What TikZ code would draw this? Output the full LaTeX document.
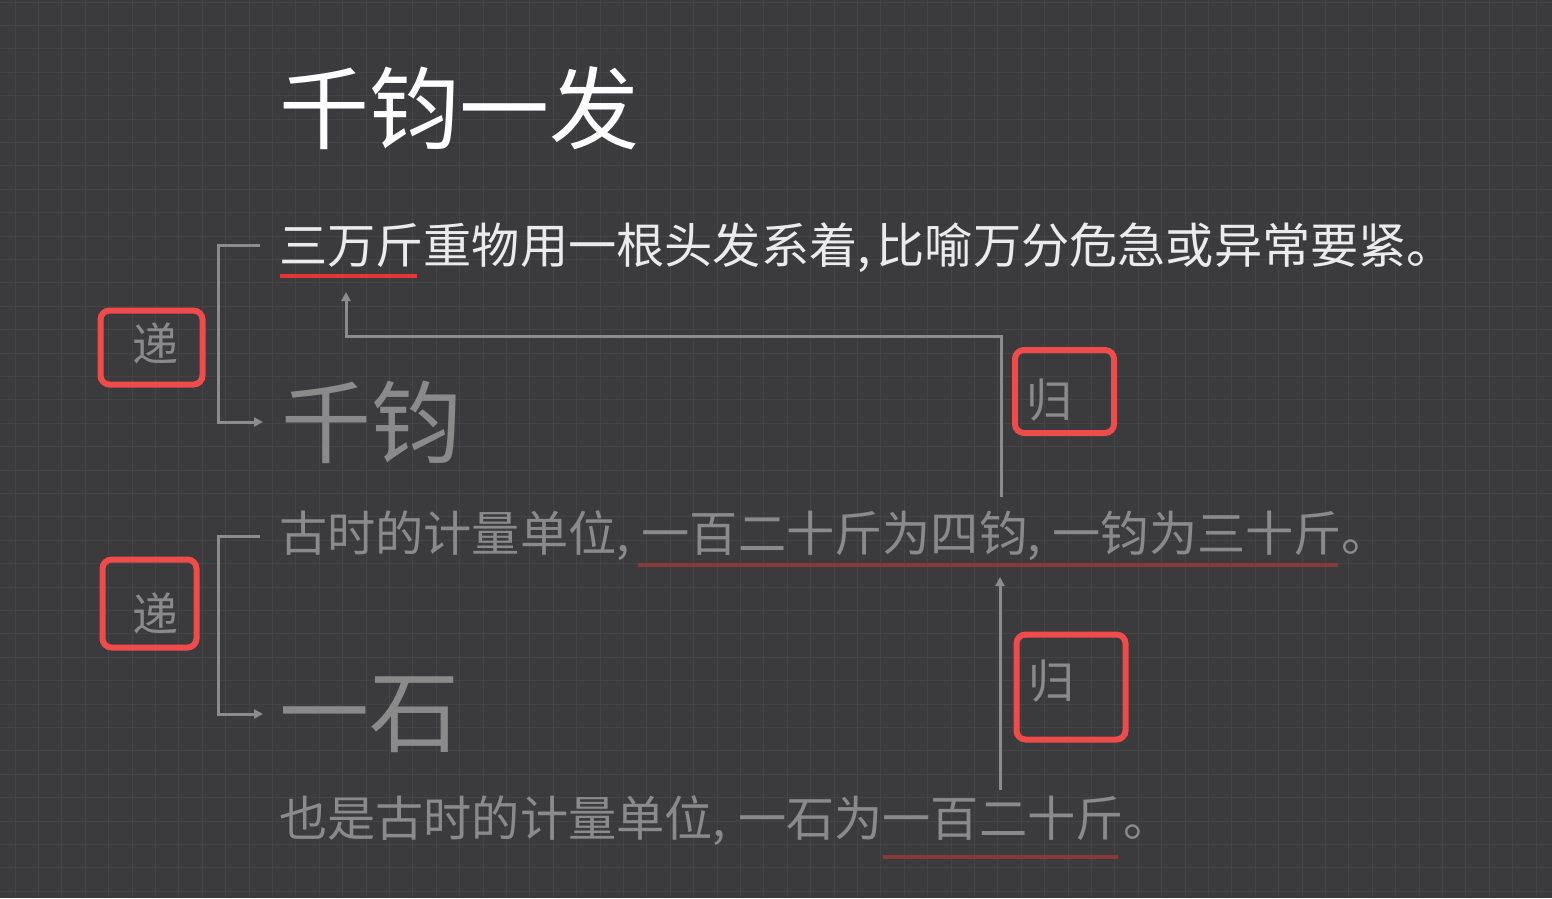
\documentclass[tikz,border=0pt]{standalone}
\usepackage{fontspec}
\setmainfont{Noto Sans CJK SC}
\newfontfamily\cjk{Noto Sans CJK SC}
\usetikzlibrary{arrows.meta}
\definecolor{bg}{HTML}{3B3A3D}
\definecolor{gridc}{HTML}{444346}
\definecolor{boxred}{HTML}{EF4B4B}
\definecolor{ulred}{HTML}{E53535}
\definecolor{ulfade}{HTML}{873A3A}
\definecolor{graytxt}{HTML}{8A8A8A}
\definecolor{conngray}{HTML}{8C8C8C}
\newcommand\cma{,\hspace{6pt}}
\newcommand\cmb{,\hspace{12pt}}
\tikzset{
  txt/.style={anchor=base west, inner sep=0pt, outer sep=0pt, font=\cjk\fontsize{48.2}{50}\selectfont},
  bigtxt/.style={anchor=base west, inner sep=0pt, outer sep=0pt, font=\cjk\fontsize{90}{95}\selectfont},
  tagtxt/.style={anchor=base west, inner sep=0pt, outer sep=0pt, text=graytxt, font=\cjk\fontsize{46}{50}\selectfont},
  tagbox/.style={draw=boxred, line width=6pt, rounded corners=9pt},
  conn/.style={draw=conngray, line width=3pt, -{Triangle[length=9pt,width=9pt]}},
  ul/.style={line width=4pt},
}
\begin{document}
\begin{tikzpicture}[x=1pt,y=-1pt]
\fill[bg] (0,0) rectangle (1552,898);
\useasboundingbox (0,0) rectangle (1552,898);
\foreach \i in {0,...,66} {\draw[gridc, line width=1pt] ({15+23.4*\i},0) -- ({15+23.4*\i},898);}
\foreach \j in {0,...,38} {\draw[gridc, line width=1pt] (0,{2+23.4*\j}) -- (1552,{2+23.4*\j});}

% title
\node[bigtxt, text=white] (title) at (279,142) {千钧一发};

% line 1
\node[txt, text=white!92!black] (l1) at (279,263) {三万斤重物用一根头发系着\cma 比喻万分危急或异常要紧。};
\coordinate (u1a) at (280,276); \coordinate (u1b) at (417,276);
\draw[ulred, ul] (u1a) -- (u1b);

% 千钧
\node[bigtxt, text=graytxt] (qj) at (281,456) {千钧};

% line 2
\node[txt, text=graytxt] (l2) at (279,551) {古时的计量单位\cmb 一百二十斤为四钧\cmb 一钧为三十斤。};
\coordinate (u2a) at (638,565); \coordinate (u2b) at (1338,565);
\draw[ulfade, ul] (u2a) -- (u2b);

% 一石
\node[bigtxt, text=graytxt] (ys) at (279,745) {一石};

% line 3
\node[txt, text=graytxt] (l3) at (279,836) {也是古时的计量单位\cmb 一石为一百二十斤。};
\coordinate (u3a) at (883,857); \coordinate (u3b) at (1118,857);
\draw[ulfade, ul] (u3a) -- (u3b);

% tag boxes
\draw[tagbox] (100.5,310.5) rectangle (202.5,384.5);
\node[tagtxt] (d1) at (132,361) {递};
\draw[tagbox] (102.5,559.5) rectangle (196.5,647.5);
\node[tagtxt] (d2) at (132,631) {递};
\draw[tagbox] (1015,350) rectangle (1114,433);
\node[tagtxt] (g1) at (1026,417) {归};
\draw[tagbox] (1016.5,634.5) rectangle (1125.5,739.5);
\node[tagtxt] (g2) at (1028,698) {归};

% connectors
\coordinate (b1s) at (260,245);
\coordinate (b1e) at (263,422);
\draw[conn] (b1s) -- (218,245) |- (b1e);
\coordinate (b2s) at (260,536);
\coordinate (b2e) at (263,714);
\draw[conn] (b2s) -- (218,536) |- (b2e);

\coordinate (r1s) at (1001,497);
\coordinate (r1e) at (346,292);
\draw[conn] (r1s) |- (346,336) -- (r1e);
\coordinate (r2s) at (1000,790);
\coordinate (r2e) at (1000,577);
\draw[conn] (r2s) -- (r2e);
\end{tikzpicture}
\end{document}
